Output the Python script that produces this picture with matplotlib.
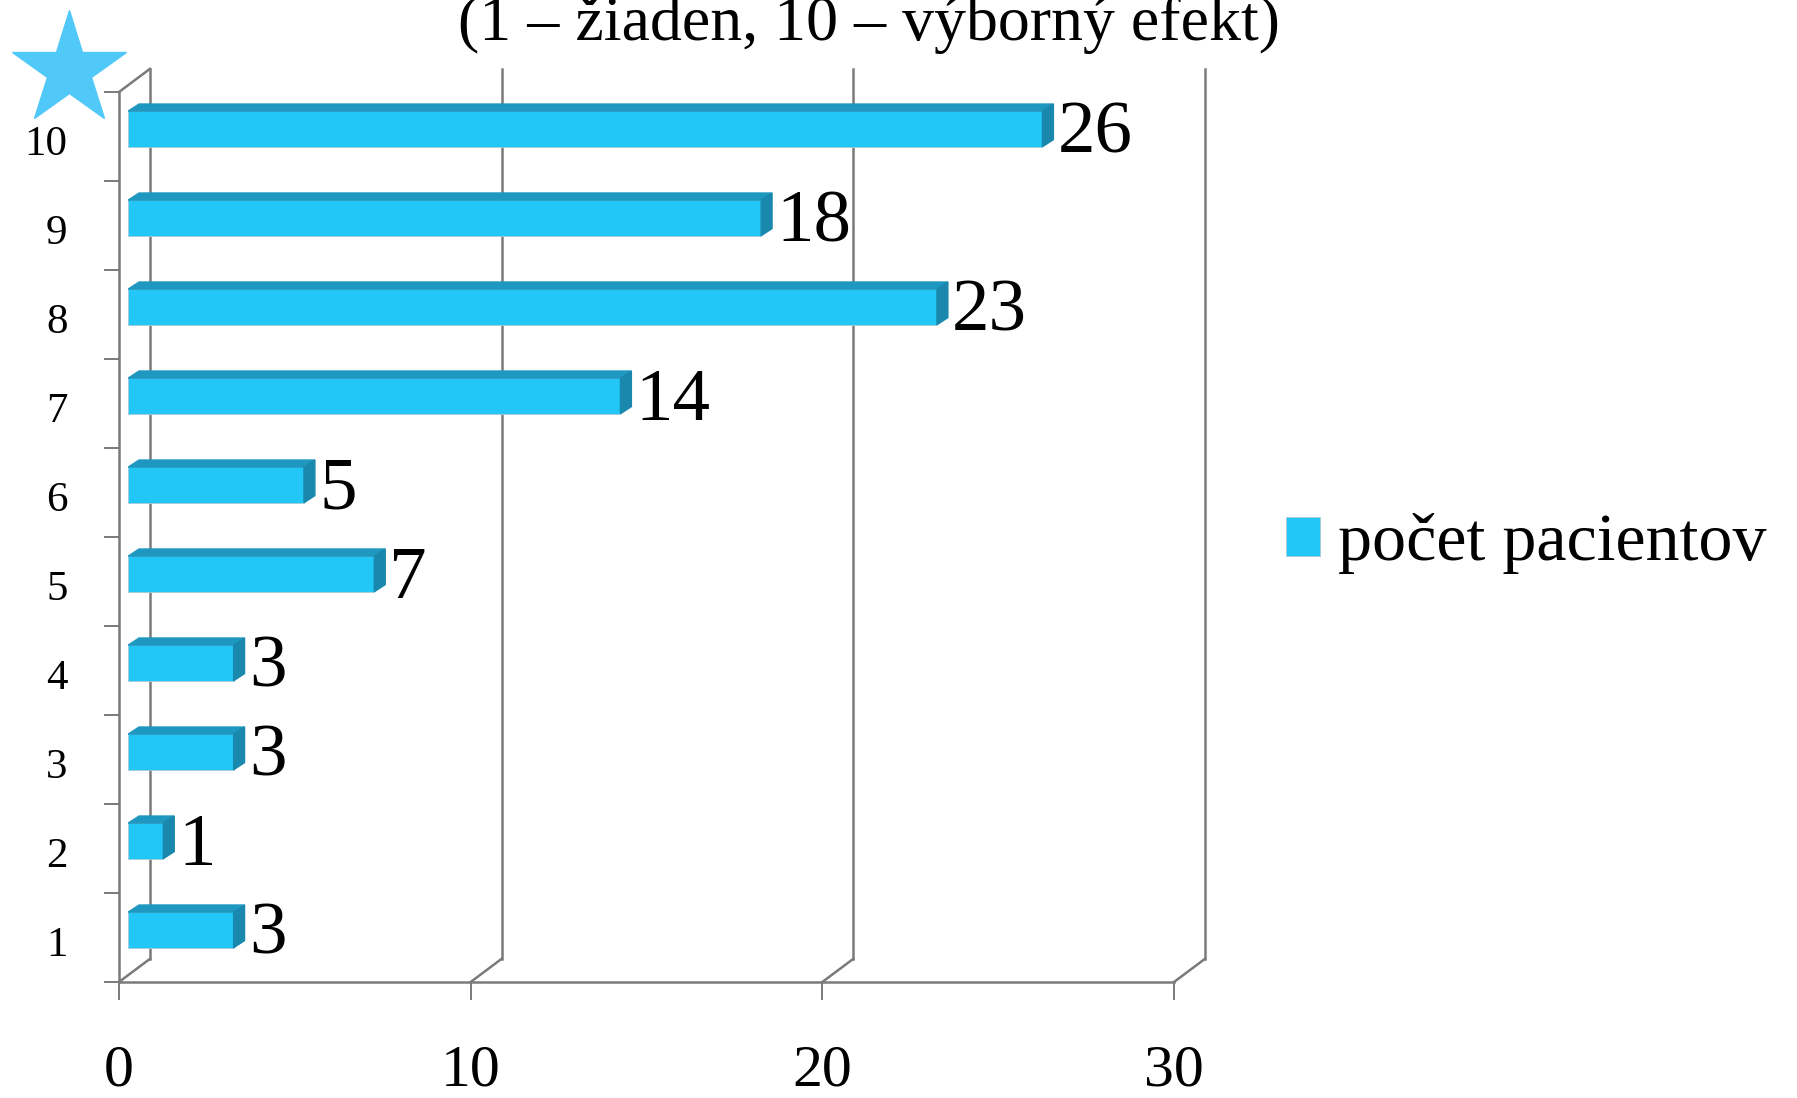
import numpy as np
import matplotlib.pyplot as plt
from matplotlib.lines import Line2D

# data
kategorie = [1, 2, 3, 4, 5, 6, 7, 8, 9, 10]
pocet = [3, 1, 3, 3, 7, 5, 14, 23, 18, 26]
x_ticks = [0, 10, 20, 30]
title_line = "(1 – žiaden, 10 – výborný efekt)"
legend_label = "počet pacientov"

plt.rcParams['font.family'] = ['Liberation Serif', 'DejaVu Serif']

W, H = 1797, 1098
fig = plt.figure(figsize=(W / 100, H / 100), dpi=100)
fig.patch.set_facecolor("white")

ax = fig.add_axes([119 / W, 1 - 982 / H, (1174 - 119) / W, (982 - 92) / H])
ax.set_xlim(0, 30)
ax.set_ylim(0.5, 10.5)
ax.patch.set_alpha(0)

grey = "#7a7a7a"
front = "#22c7f7"
top_c = "#1e98c0"
side_c = "#1a88ad"

# pseudo 3d depth (data units)
dxb, dyb = 0.88, 0.26      # back wall
face0 = 0.26               # bar face sits a bit behind the front plane
ddx, ddy = 0.31, 0.08      # bar depth
bh = 0.40
shift = 0.085

# back wall lines
for v in x_ticks:
    ax.plot([v + dxb, v + dxb], [0.5 + dyb, 10.5 + dyb], color=grey, lw=1.8, clip_on=False, zorder=1)
    ax.plot([v, v + dxb], [0.5, 0.5 + dyb], color=grey, lw=1.8, clip_on=False, zorder=1)
ax.plot([0, dxb], [10.5, 10.5 + dyb], color=grey, lw=1.8, clip_on=False, zorder=1)

yc = np.array(kategorie) + shift
vals = np.array(pocet)
bars = ax.barh(yc, vals, height=bh, left=face0, color=front, edgecolor="#a9c9d6",
               linewidth=0.6, zorder=3, label=legend_label)
for y, v in zip(yc, vals):
    yb, yt = y - bh / 2, y + bh / 2
    x1 = face0 + v
    ax.fill([face0, x1, x1 + ddx, face0 + ddx], [yt, yt, yt + ddy, yt + ddy],
            color=top_c, zorder=3, clip_on=False)
    ax.fill([x1, x1, x1 + ddx, x1 + ddx], [yb, yt, yt + ddy, yb + ddy],
            color=side_c, zorder=3, clip_on=False)
    ax.text(x1 + ddx + 0.12, y - 0.07, str(v), fontsize=54, va="center", ha="left", zorder=4)

for s in ["top", "right"]:
    ax.spines[s].set_visible(False)
for s in ["left", "bottom"]:
    ax.spines[s].set_color(grey)
    ax.spines[s].set_linewidth(1.8)

ax.set_xticks(x_ticks)
ax.set_xticklabels([str(t) for t in x_ticks])
ax.tick_params(axis="x", direction="out", length=13, width=1.4, color=grey,
               labelsize=43, pad=32)
ax.set_yticks(np.arange(0.5, 11.0, 1.0))
ax.set_yticklabels([])
ax.tick_params(axis="y", which="major", direction="out", length=11, width=1.4, color=grey)
ax.set_yticks(np.array(kategorie) - 0.04, minor=True)
ax.set_yticklabels([str(k) for k in kategorie], minor=True)
ax.tick_params(axis="y", which="minor", length=0, labelsize=31, pad=37)

# title's upper part runs off the top edge, as in the original
fig.text(869 / W, 1 - 40 / H, title_line, fontsize=46, ha="center", va="baseline")

fig.legend(handles=[bars], labels=[legend_label], loc="center left",
           bbox_to_anchor=(1286 / W, 1 - 544 / H), frameon=False, fontsize=49,
           handlelength=0.5, handleheight=0.5, handletextpad=0.27, borderpad=0,
           borderaxespad=0)

# star decoration in the corner
fig.add_artist(Line2D([69 / W], [1 - 70 / H], marker="*", markersize=86,
                      color="#50c8f8", linestyle="none", transform=fig.transFigure))

fig.savefig("out.png", dpi=100)
